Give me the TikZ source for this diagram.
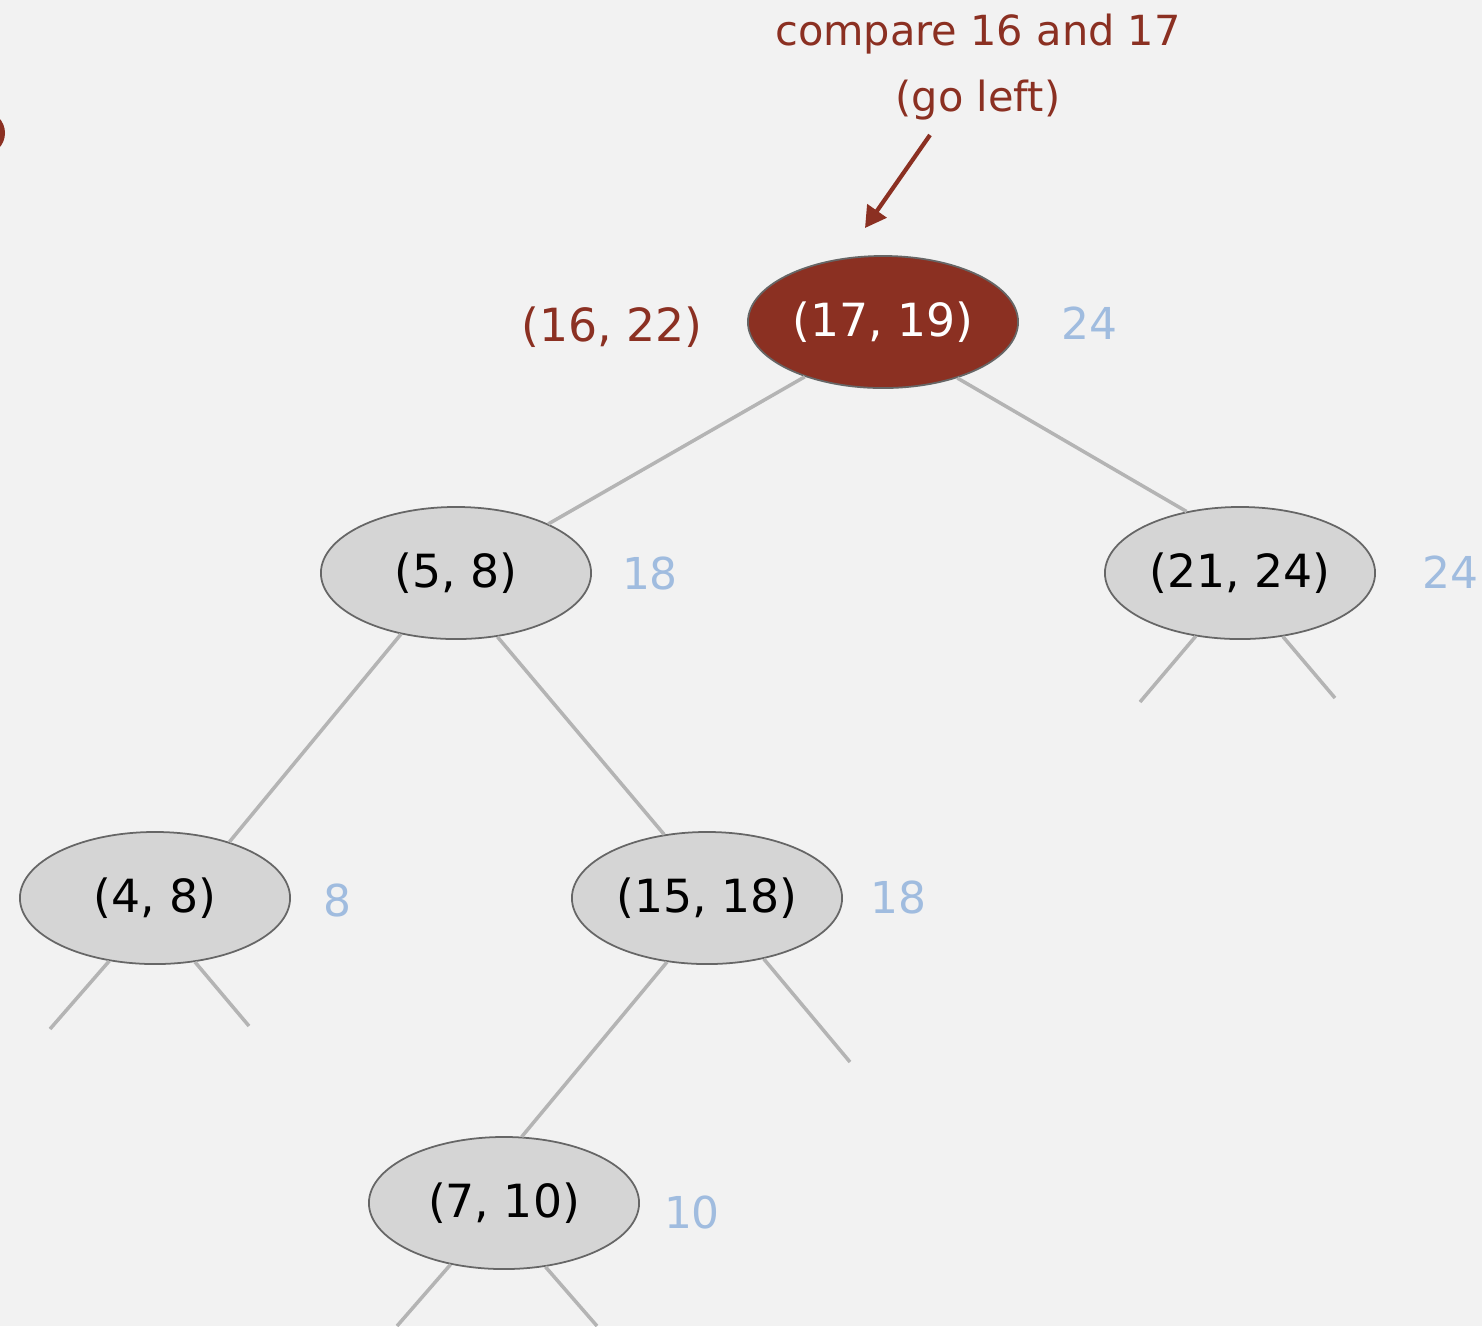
\documentclass[tikz,border=0pt]{standalone}
\usepackage{fontspec}
\setmainfont{DejaVu Sans}
\usetikzlibrary{shapes.geometric,arrows.meta}
\definecolor{keyred}{RGB}{139,48,34}
\definecolor{maxblue}{RGB}{160,188,223}
\definecolor{nodegray}{RGB}{213,213,213}
\definecolor{linkgray}{RGB}{180,180,180}
\definecolor{paper}{RGB}{242,242,242}

\begin{document}
\begin{tikzpicture}[x=0.01cm, y=-0.01cm,
    bstnode/.style={ellipse, draw=black!60, fill=nodegray, line width=0.5pt,
      minimum width=2.7cm, minimum height=1.32cm, inner sep=0pt,
      font=\fontsize{13}{15}\selectfont},
    hitnode/.style={bstnode, fill=keyred, text=white},
    maxlabel/.style={text=maxblue, font=\fontsize{12.5}{15}\selectfont},
    link/.style={linkgray, line width=1pt}]
    % background and bounding box
    \fill[paper] (0,0) rectangle (1482,1326);
    \useasboundingbox (0,0) rectangle (1482,1326);
    \fill[keyred] (-17,133) circle (0.22cm);

    % tree nodes
    \node[hitnode] (n1719) at (883,322) {(17, 19)};
    \node[bstnode] (n58) at (456,573) {(5, 8)};
    \node[bstnode] (n2124) at (1240,573) {(21, 24)};
    \node[bstnode] (n48) at (155,898) {(4, 8)};
    \node[bstnode] (n1518) at (707,898) {(15, 18)};
    \node[bstnode] (n710) at (504,1203) {(7, 10)};

    % max endpoints in subtrees
    \node[maxlabel] (m1719) at (1089,323) {24};
    \node[maxlabel] (m58) at (650,573) {18};
    \node[maxlabel] (m2124) at (1450,572) {24};
    \node[maxlabel] (m48) at (337,900) {8};
    \node[maxlabel] (m1518) at (898,897) {18};
    \node[maxlabel] (m710) at (692,1212) {10};

    % query interval and comment
    \node[text=keyred, font=\fontsize{13}{15}\selectfont] (query) at (612,327) {(16, 22)};
    \node[text=keyred, font=\fontsize{11.8}{14}\selectfont] (compare) at (978,34) {compare 16 and 17};
    \node[text=keyred, font=\fontsize{11.8}{14}\selectfont] (goleft) at (978,100) {(go left)};
    \coordinate (arrstart) at (930,135);
    \coordinate (arrtip) at (865,228);
    \draw[keyred, line width=1.2pt, -{Triangle[length=0.21cm, width=0.23cm]}] (arrstart) -- (arrtip);

    % links
    \draw[link] (n1719.215.5) -- (n58.28.3);
    \draw[link] (n1719.-37.9) -- (n2124.131);
    \draw[link] (n58.-132.5) -- (n48.37.9);
    \draw[link] (n58.-57.4) -- (n1518.124.5);
    \draw[link] (n1518.-122.2) -- (n710.75.6);

    % null links
    \coordinate (s1) at (1140,702);
    \coordinate (s2) at (1335,698);
    \coordinate (s3) at (50,1029);
    \coordinate (s4) at (249,1026);
    \coordinate (s5) at (850,1062);
    \coordinate (s6) at (397,1326);
    \coordinate (s7) at (597,1326);
    \draw[link] (n2124.-125.5) -- (s1);
    \draw[link] (n2124.-56) -- (s2);
    \draw[link] (n48.-126.9) -- (s3);
    \draw[link] (n48.-58.4) -- (s4);
    \draw[link] (n1518.-47.9) -- (s5);
    \draw[link] (n710.-131) -- (s6);
    \draw[link] (n710.-57) -- (s7);
\end{tikzpicture}
\end{document}
